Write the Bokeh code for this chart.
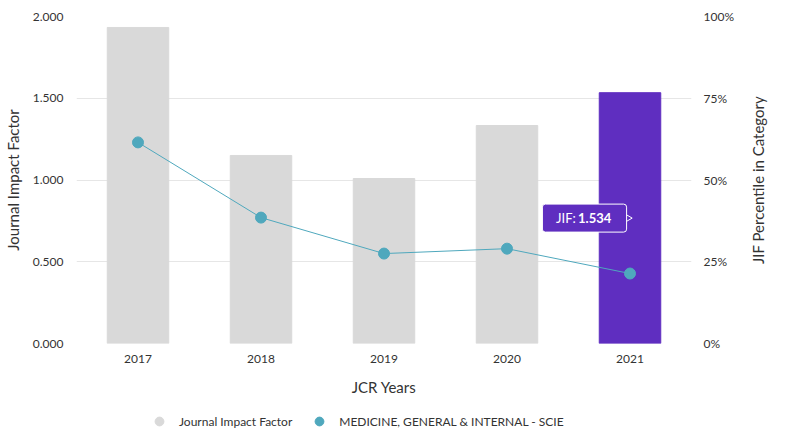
import math
from bokeh.plotting import figure
from bokeh.layouts import column, row
from bokeh.models import (FactorRange, Range1d, LinearAxis, FixedTicker,
                          NumeralTickFormatter, Legend, LegendItem, Label)
from bokeh.embed import file_html
from bokeh.resources import INLINE

years = ["2017", "2018", "2019", "2020", "2021"]
jif = [1.933, 1.150, 1.009, 1.333, 1.534]
percentile = [0.615, 0.385, 0.275, 0.290, 0.214]
jif_ticks = [0, 0.5, 1.0, 1.5, 2.0]
pct_ticks = [0, 0.25, 0.5, 0.75, 1.0]
series_names = ["Journal Impact Factor", "MEDICINE, GENERAL & INTERNAL - SCIE"]

GRAY = "#d9d9d9"
PURPLE = "#5f2ec0"
TEAL = "#4fa8bd"
TXT = "#333333"
FONT = "Lato"

FW, FH = 615, 327
LEFT, TOP, BOTTOM = 76, 16, 62
bar_colors = [GRAY] * (len(years) - 1) + [PURPLE]

p = figure(x_range=FactorRange(*years, range_padding=0), y_range=Range1d(0, 2),
           frame_width=FW, frame_height=FH, output_backend="svg",
           toolbar_location=None,
           min_border_left=LEFT, min_border_right=55, min_border_top=TOP,
           min_border_bottom=BOTTOM)
p.extra_y_ranges = {"pct": Range1d(0, 1)}
p.outline_line_color = None
p.xgrid.grid_line_color = None
p.ygrid.grid_line_color = "#e6e6e6"
p.ygrid.ticker = FixedTicker(ticks=jif_ticks)

p.vbar(x=years, top=jif, width=0.5, color=bar_colors)
p.line(x=years, y=percentile, y_range_name="pct", color=TEAL, line_width=1)
p.scatter(x=years, y=percentile, y_range_name="pct", color=TEAL, size=11)

# axes
la = p.yaxis[0]
la.ticker = FixedTicker(ticks=jif_ticks)
la.formatter = NumeralTickFormatter(format="0.000")
la.axis_label = "Journal Impact Factor"

ra = LinearAxis(y_range_name="pct", ticker=FixedTicker(ticks=pct_ticks),
                formatter=NumeralTickFormatter(format="0%"))
p.add_layout(ra, "right")

xa = p.xaxis[0]
xa.axis_label = "JCR Years"

for ax in [la, ra, xa]:
    ax.axis_line_color = None
    ax.major_tick_line_color = None
    ax.minor_tick_line_color = None
    ax.major_tick_out = 0
    ax.major_tick_in = 0
    ax.minor_tick_out = 0
    ax.major_label_text_color = TXT
    ax.major_label_text_font = FONT
    ax.major_label_text_font_size = "12px"
    ax.axis_label_text_color = TXT
    ax.axis_label_text_font = FONT
    ax.axis_label_text_font_size = "15px"
    ax.axis_label_text_font_style = "normal"
la.major_label_standoff = 13
la.axis_label_standoff = 8
ra.major_label_standoff = 12
xa.major_label_standoff = 11
xa.axis_label_standoff = 12

# tooltip for the highlighted year
i_hl = years.index("2021")
px_per_cat = FW / len(years)
yc = jif[i_hl] / 2
p.scatter(x=[i_hl + 0.5 - 3 / px_per_cat], y=[yc], marker="triangle",
          angle=-1.5708, size=9, fill_color=PURPLE, line_color="white",
          line_width=1)
box = Label(x=i_hl + 0.5, y=yc, x_offset=-45.5, y_offset=0, text="JIF: 1.534",
            text_color=PURPLE, text_font=FONT, text_font_size="13px",
            text_align="center", text_baseline="middle",
            background_fill_color=PURPLE, border_line_color="white",
            border_line_width=1, padding=(14, 6), border_radius=3)
p.add_layout(box)
lab1 = Label(x=i_hl + 0.5, y=yc, x_offset=-74, text="JIF:", text_color="white",
             text_font=FONT, text_font_size="13px", text_baseline="middle")
lab2 = Label(x=i_hl + 0.5, y=yc, x_offset=-52, text="1.534", text_color="white",
             text_font=FONT, text_font_size="13px", text_font_style="bold",
             text_baseline="middle")
p.add_layout(lab1)
p.add_layout(lab2)

# right-hand axis title (reads bottom to top) in a narrow strip
pr = figure(frame_width=22, frame_height=FH, output_backend="svg",
            toolbar_location=None, x_range=Range1d(0, 1), y_range=Range1d(0, 1),
            x_axis_type=None, y_axis_type=None,
            min_border_left=0, min_border_right=0,
            min_border_top=TOP, min_border_bottom=BOTTOM)
pr.outline_line_color = None
pr.grid.visible = False
pr.add_layout(Label(x=0.5, y=0.5, text="JIF Percentile in Category",
                    angle=math.pi / 2, text_align="center",
                    text_baseline="middle", text_font=FONT,
                    text_font_size="15px", text_color=TXT))

# legend in a strip below the chart
pl = figure(frame_width=FW, frame_height=31, output_backend="svg",
            toolbar_location=None,
            x_range=Range1d(0, 1), y_range=Range1d(0, 1),
            x_axis_type=None, y_axis_type=None,
            min_border_left=LEFT, min_border_right=78,
            min_border_top=0, min_border_bottom=0)
pl.outline_line_color = None
pl.grid.visible = False
r1 = pl.scatter(x=[-5], y=[-5], color=GRAY, size=14)
r2 = pl.scatter(x=[-5], y=[-5], color=TEAL, size=14)
legend = Legend(items=[LegendItem(label=series_names[0], renderers=[r1]),
                       LegendItem(label=series_names[1], renderers=[r2])],
                orientation="horizontal", location=(72, 4),
                border_line_color=None, background_fill_alpha=0,
                label_text_font=FONT,
                label_text_font_size="12px", label_text_color=TXT,
                spacing=16, glyph_width=22, glyph_height=22,
                label_standoff=9, label_height=22,
                margin=0, padding=0)
pl.add_layout(legend, "center")

layout = column(row(p, pr, spacing=0), pl, spacing=0)
open("out.html", "w").write(file_html(layout, INLINE))
